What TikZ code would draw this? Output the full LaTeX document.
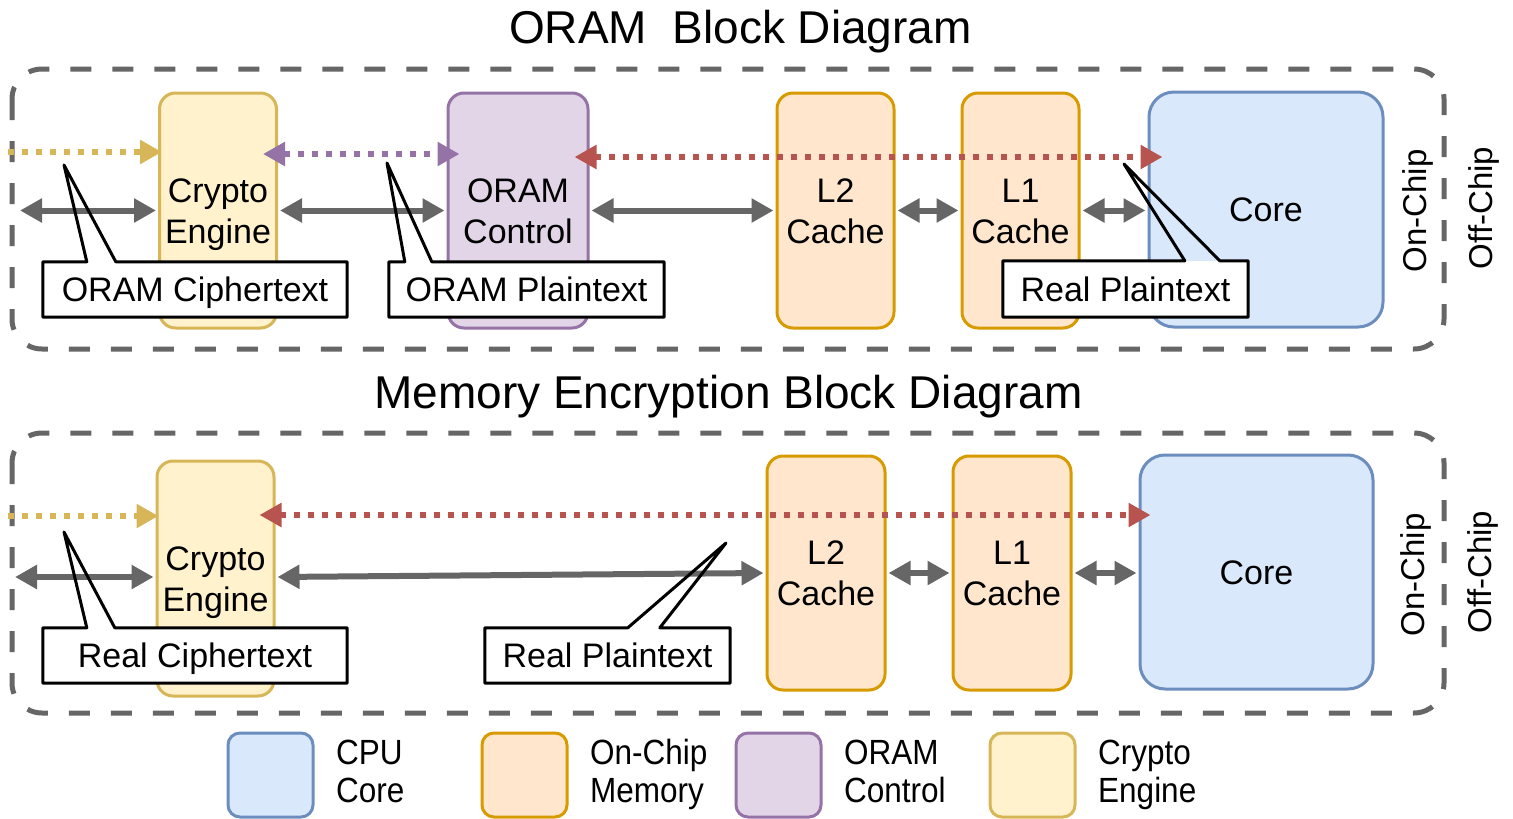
\documentclass[tikz,border=0pt]{standalone}
\usepackage{fontspec}
\setmainfont{Liberation Sans}
\usetikzlibrary{arrows.meta,calc}
\definecolor{gr}{HTML}{666666}
\definecolor{yelF}{HTML}{FFF2CC}\definecolor{yelS}{HTML}{D6B656}
\definecolor{purF}{HTML}{E1D5E7}\definecolor{purS}{HTML}{9673A6}
\definecolor{oraF}{HTML}{FFE6CC}\definecolor{oraS}{HTML}{D79B00}
\definecolor{bluF}{HTML}{DAE8FC}\definecolor{bluS}{HTML}{6C8EBF}
\definecolor{redS}{HTML}{B85450}
\newcommand\fsz[2]{\fontsize{#1}{#2}\selectfont}
\newcommand\legsq[1]{\scalebox{0.9}[1]{#1}}
\begin{document}
\begin{tikzpicture}[x=1pt,y=-1pt,
  txt34/.style={font=\fsz{34}{41}, execute at begin node={\rule{0pt}{33pt}}, execute at end node={\rule[-9pt]{0pt}{9pt}}},
  blkbase/.style={draw, line width=3pt, rounded corners=16pt, inner sep=0pt, align=center,
    font=\fsz{34}{41}, execute at end node={\rule[-9pt]{0pt}{9pt}},
    minimum width=117pt, minimum height=235pt},
  blk/.style={blkbase, execute at begin node={\rule{0pt}{74pt}}},
  cryptob/.style={blk, fill=yelF, draw=yelS},
  oramb/.style={blk, fill=purF, draw=purS},
  memb/.style={blk, fill=oraF, draw=oraS},
  coreb/.style={blkbase, execute at begin node={\rule{0pt}{33pt}}, fill=bluF, draw=bluS, rounded corners=25pt, minimum width=234pt},
  outerbox/.style={draw=gr, line width=5pt, dash pattern=on 21pt off 21pt, rounded corners=30pt},
  garrow/.style={draw=gr, line width=6pt, {Triangle[length=22pt,width=23pt]}-{Triangle[length=22pt,width=23pt]}, shorten <=2pt, shorten >=2pt},
  dotline/.style={line width=6pt, dash pattern=on 6pt off 8pt},
  ydot/.style={dotline, draw=yelS, -{Triangle[length=22pt,width=23pt]}},
  pdot/.style={dotline, draw=purS, {Triangle[length=22pt,width=23pt]}-{Triangle[length=22pt,width=23pt]}},
  rdot/.style={dotline, draw=redS, {Triangle[length=22pt,width=23pt]}-{Triangle[length=22pt,width=23pt]}},
  lab/.style={fill=white, inner sep=0pt, txt34, minimum height=55pt},
  callout/.style={draw=black, line width=3pt, line join=round},
  title/.style={font=\fsz{46}{52}, inner sep=0pt, execute at begin node={\rule{0pt}{40pt}}, execute at end node={\rule[-7pt]{0pt}{7pt}}},
  side/.style={rotate=90, font=\fsz{33}{40}, inner sep=0pt},
  legbox/.style={draw, line width=3pt, rounded corners=12pt, minimum width=85pt, minimum height=84pt, inner sep=0pt},
  legtext/.style={anchor=west, align=left, inner sep=0pt, font=\fsz{35}{38}, execute at begin node={\rule{0pt}{68pt}}, execute at end node={\rule[-10pt]{0pt}{10pt}}}
]
\useasboundingbox (0,0) rectangle (1513,819);

% titles
\node[title] (t1) at (740.5,28) {ORAM\ \ Block Diagram};
\node[title] (t2) at (728.5,393) {Memory Encryption Block Diagram};

% outer dashed regions
\draw[outerbox] (12,69) rectangle (1444,349);
\draw[outerbox] (12,433) rectangle (1444,713);

% side labels
\node[side] (on1) at (1418,211) {On-Chip};
\node[side] (off1) at (1484,208) {Off-Chip};
\node[side] (on2) at (1416,575) {On-Chip};
\node[side] (off2) at (1483,572) {Off-Chip};

% ---------- top diagram ----------
\node[cryptob] (ce1) at (218,210.5) {Crypto\\Engine};
\node[oramb, minimum width=140pt] (oc1) at (518,210.5) {ORAM\\Control};
\node[memb] (l2a) at (835.5,210.5) {L2\\Cache};
\node[memb] (l1a) at (1020.5,210.5) {L1\\Cache};
\node[coreb] (core1) at (1266,209.5) {Core};

\coordinate (ys1) at (8,152);
\coordinate (gl1) at (18,210.5);
\draw[ydot] (ys1) -- ($(ce1.west)+(4,-58.5)$);
\draw[pdot] ($(ce1.east)+(-15,-56.5)$) -- ($(oc1.west)+(13,-56.5)$);
\draw[rdot] ($(oc1.east)+(-15,-53.5)$) -- ($(core1.west)+(15,-52.5)$);
\draw[garrow] (gl1) -- (ce1.west);
\draw[garrow] (ce1.east) -- (oc1.west);
\draw[garrow] (oc1.east) -- (l2a.west);
\draw[garrow] (l2a.east) -- (l1a.west);
\draw[garrow] (l1a.east) -- (l1a.east -| core1.west);

% callouts top
\coordinate (p1) at (64,165);
\node[lab, minimum width=304pt] (c1) at (195,289.5) {ORAM Ciphertext};
\draw[callout] (c1.north west) -- ($(c1.north west)+(44,0)$) -- (p1) -- ($(c1.north west)+(73,0)$) -- (c1.north east) -- (c1.south east) -- (c1.south west) -- cycle;

\coordinate (p2) at (387,163);
\node[lab, minimum width=275pt] (c2) at (526.5,289.5) {ORAM Plaintext};
\draw[callout] (c2.north west) -- ($(c2.north west)+(16,0)$) -- (p2) -- ($(c2.north west)+(43,0)$) -- (c2.north east) -- (c2.south east) -- (c2.south west) -- cycle;

\coordinate (p3) at (1124,164);
\node[lab, minimum width=245pt, minimum height=56pt] (c3) at (1125.5,289) {Real Plaintext};
\draw[callout] (c3.north west) -- ($(c3.north west)+(182,0)$) -- (p3) -- ($(c3.north west)+(217,0)$) -- (c3.north east) -- (c3.south east) -- (c3.south west) -- cycle;

% ---------- bottom diagram ----------
\node[cryptob] (ce2) at (215.5,578.5) {Crypto\\Engine};
\node[memb, minimum width=118pt, minimum height=234pt] (l2b) at (826,573) {L2\\Cache};
\node[memb, minimum width=118pt, minimum height=234pt] (l1b) at (1012,573) {L1\\Cache};
\node[coreb, minimum width=233pt, minimum height=234pt] (core2) at (1256.5,572) {Core};

\coordinate (ys2) at (8,516);
\coordinate (gl2) at (13,577);
\draw[ydot] (ys2) -- ($(ce2.west)+(3,-62.5)$);
\draw[rdot] ($(ce2.east)+(-16,-63.5)$) -- ($(core2.west)+(12,-57)$);
\draw[garrow] (gl2) -- (gl2 -| ce2.west);
\draw[garrow] ($(ce2.east)+(0,-1.5)$) -- (l2b.west);
\draw[garrow] (l2b.east) -- (l1b.west);
\draw[garrow] (l1b.east) -- (l1b.east -| core2.west);

% callouts bottom
\coordinate (p4) at (64,532);
\node[lab, minimum width=304pt] (c4) at (195,655.5) {Real Ciphertext};
\draw[callout] (c4.north west) -- ($(c4.north west)+(44,0)$) -- (p4) -- ($(c4.north west)+(72,0)$) -- (c4.north east) -- (c4.south east) -- (c4.south west) -- cycle;

\coordinate (p5) at (726,543);
\node[lab, minimum width=245pt] (c5) at (607.5,655.5) {Real Plaintext};
\draw[callout] (c5.north west) -- ($(c5.north west)+(143,0)$) -- (p5) -- ($(c5.north west)+(175,0)$) -- (c5.north east) -- (c5.south east) -- (c5.south west) -- cycle;

% ---------- legend ----------
\node[legbox, fill=bluF, draw=bluS] (lg1) at (270.5,775) {};
\node[legbox, fill=oraF, draw=oraS] (lg2) at (524.5,775) {};
\node[legbox, fill=purF, draw=purS] (lg3) at (778.5,775) {};
\node[legbox, fill=yelF, draw=yelS] (lg4) at (1032.5,775) {};
\node[legtext] (lt1) at (336,773.5) {\legsq{CPU}\\\legsq{Core}};
\node[legtext] (lt2) at (590,773.5) {\legsq{On-Chip}\\\legsq{Memory}};
\node[legtext] (lt3) at (844,773.5) {\legsq{ORAM}\\\legsq{Control}};
\node[legtext] (lt4) at (1098,773.5) {\legsq{Crypto}\\\legsq{Engine}};
\end{tikzpicture}
\end{document}
